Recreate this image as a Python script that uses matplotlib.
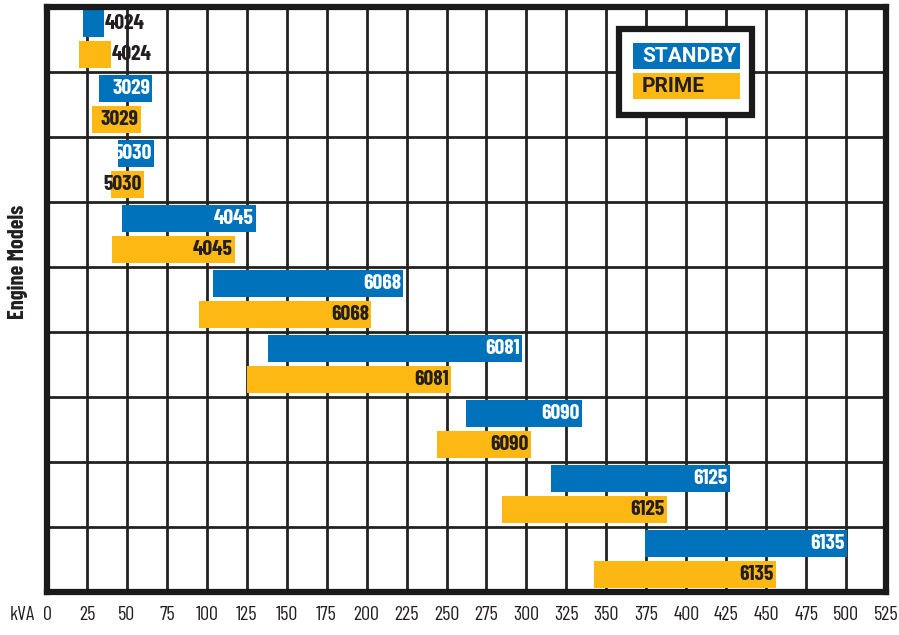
import matplotlib.pyplot as plt
from matplotlib.patches import Rectangle
from matplotlib import font_manager

# engine models, top to bottom, with kVA ranges
models = ['4024', '3029', '5030', '4045', '6068', '6081', '6090', '6125', '6135']
standby_start = [22.5, 32.5, 44.5, 47, 104, 138, 262.5, 315.5, 374]
standby_end = [35.5, 66, 67, 130.5, 223, 297.5, 335, 427.5, 500.5]
prime_start = [20, 28, 40, 40.5, 95, 125, 244, 285, 342.5]
prime_end = [40, 59, 60.5, 117.5, 203, 253, 303, 388, 456]
series = ['STANDBY', 'PRIME']
kva_ticks = list(range(0, 526, 25))

BLUE = '#0071BB'
ORANGE = '#FDB813'
INK = '#231F20'

names = {f.name for f in font_manager.fontManager.ttflist}
narrow = 'Barlow Condensed' if 'Barlow Condensed' in names else 'DejaVu Sans'
plt.rcParams['font.family'] = [narrow, 'DejaVu Sans']

W, H = 899, 635
fig = plt.figure(figsize=(W / 100, H / 100), dpi=100)
# axes placed in pixels: left 47, right 886, top 7, bottom 592
ax = fig.add_axes([47 / W, 1 - 592 / H, (886 - 47) / W, (592 - 7) / H])

n = len(models)
h = 0.415
lbl = dict(fontsize=15.5, fontweight='bold', va='center', zorder=4)
for i in range(n):
    yb = i + 0.26
    yp = i + 0.737
    ax.barh(yb, standby_end[i] - standby_start[i], left=standby_start[i], height=h,
            color=BLUE, zorder=3)
    ax.barh(yp, prime_end[i] - prime_start[i], left=prime_start[i], height=h,
            color=ORANGE, zorder=3)
    if i == 0:
        # bars too short, label sits outside
        ax.text(standby_end[i] + 0.5, yb, models[i], ha='left', color=INK, **lbl)
        ax.text(prime_end[i] + 0.5, yp, models[i], ha='left', color=INK, **lbl)
    else:
        ax.text(standby_end[i] - 1.5, yb, models[i], ha='right', color='white', **lbl)
        ax.text(prime_end[i] - 1.5, yp, models[i], ha='right', color=INK, **lbl)

ax.set_xlim(0, 525)
ax.set_ylim(n, 0)
ax.set_xticks(kva_ticks[1:-1])
ax.set_yticks(range(1, n))
ax.grid(True, color='#222222', linewidth=2, zorder=1)
ax.tick_params(length=0, labelleft=False, labelbottom=False)
for s in ax.spines.values():
    s.set_linewidth(4.5)
    s.set_color('#1a1a1a')
    s.set_zorder(5)

# tick labels below the frame
for v in kva_ticks:
    ax.annotate(str(v), xy=(v, 0), xycoords=('data', 'axes fraction'),
                xytext=(0, -23), textcoords='offset pixels',
                ha='center', va='center', fontsize=14.5, color=INK)
fig.text(22 / W, 1 - 615 / H, 'kVA', ha='center', va='center', fontsize=14.5, color=INK)
fig.text(18 / W, 1 - 262 / H, 'Engine Models', rotation=90, ha='center', va='center',
         fontsize=16, fontweight='bold', color=INK)

# legend box
def px(x, y):
    return x / W, 1 - y / H

x0, y0 = px(619, 115)
fig.add_artist(Rectangle((x0, y0), (752 - 619) / W, (115 - 29) / H, transform=fig.transFigure,
                         facecolor='white', edgecolor='#1a1a1a', linewidth=4.5, zorder=6))
for k, (name, col, tcol) in enumerate(zip(series, [BLUE, ORANGE], ['white', INK])):
    top = 43 + k * 30
    bx, by = px(633, top + 26)
    fig.add_artist(Rectangle((bx, by), (740 - 633) / W, 26 / H, transform=fig.transFigure,
                             facecolor=col, edgecolor='none', zorder=7))
    tx, ty = px(642, top + 14)
    fig.text(tx, ty, name, ha='left', va='center', fontsize=15, fontweight='bold',
             color=tcol, family=['Roboto', 'DejaVu Sans'], zorder=8)

fig.savefig('out.png', dpi=100)
